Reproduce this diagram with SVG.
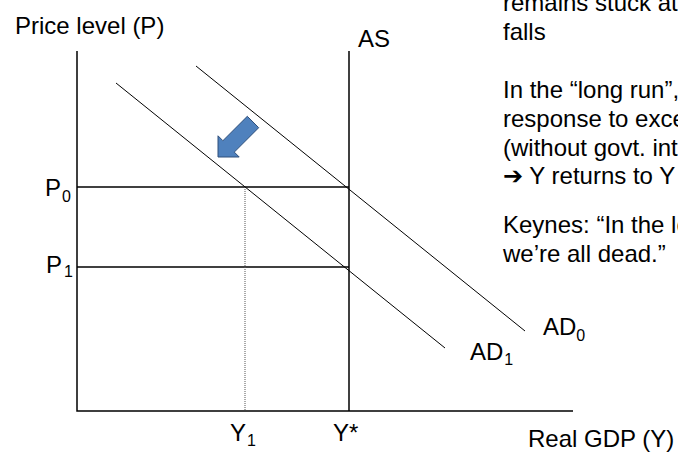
<svg xmlns="http://www.w3.org/2000/svg" width="678" height="454" viewBox="0 0 678 454">
<style>
text{font-family:"Liberation Sans",Arial,"DejaVu Sans",sans-serif;font-size:24px;fill:#000}
.sub{font-size:16px}
.axis{stroke:#000;stroke-width:1.5;fill:none}
.lvl{stroke:#000;stroke-width:1.3;fill:none}
.ad{stroke:#000;stroke-width:1;fill:none}
.dot{stroke:#555;stroke-width:1;stroke-dasharray:1,1;fill:none}
</style>
<rect width="678" height="454" fill="#fff"/>
<g id="connectors">
<path class="axis" d="M77,51V411H573"/>
<path class="axis" d="M349,51V411"/>
<path class="lvl" d="M77,187H349"/>
<path class="lvl" d="M77,267H349"/>
<path class="dot" d="M245,187V411"/>
<path class="ad" d="M196,66L525,331"/>
<path class="ad" d="M116,83L445,348"/>
</g>
<g id="shift-arrow">
<polygon points="247.3,116.3 258.7,127.7 234.3,152.1 239.2,157 218,157 218,135.8 222.9,140.7" fill="#4F81BD" stroke="#2F4F7A" stroke-width="1"/>
</g>
<g id="labels">
<text x="15" y="34">Price level (P)</text>
<text x="358" y="47">AS</text>
<text x="45" y="196">P<tspan class="sub" dx="1" dy="6">0</tspan></text>
<text x="46" y="273">P<tspan class="sub" dx="2" dy="4">1</tspan></text>
<text x="230" y="441">Y<tspan class="sub" dx="1" dy="5">1</tspan></text>
<text x="333" y="441">Y*</text>
<text x="528" y="447">Real GDP (Y)</text>
<text x="543" y="335">AD<tspan class="sub" dy="6">0</tspan></text>
<text x="470" y="360">AD<tspan class="sub" dx="1" dy="5">1</tspan></text>
</g>
<g id="notes">
<text x="503" y="11">remains stuck at</text>
<text x="503" y="40">falls</text>
<text x="503" y="98">In the “long run”,</text>
<text x="503" y="127">response to exce</text>
<text x="503" y="156">(without govt. int</text>
<text x="503" y="184">➔ Y returns to Y</text>
<text x="503" y="233">Keynes: “In the lo</text>
<text x="503" y="262">we’re all dead.”</text>
</g>
</svg>
